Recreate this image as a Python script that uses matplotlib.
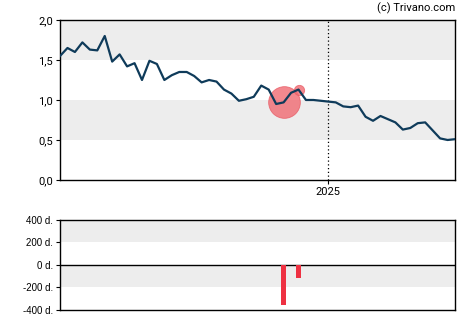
import numpy as np
import pandas as pd
import matplotlib
matplotlib.use('Agg')
import matplotlib.pyplot as plt
import matplotlib.dates as mdates

# weekly closing values
dates = pd.date_range('2024-04-24', periods=54, freq='7D')
prices = [1.55, 1.65, 1.60, 1.72, 1.63, 1.62, 1.80, 1.48, 1.57, 1.42,
          1.46, 1.25, 1.49, 1.45, 1.25, 1.31, 1.35, 1.35, 1.30, 1.22,
          1.25, 1.23, 1.13, 1.08, 0.99, 1.01, 1.04, 1.18, 1.13, 0.95,
          0.97, 1.09, 1.13, 1.00, 1.00, 0.99, 0.98, 0.97, 0.92, 0.91,
          0.93, 0.79, 0.74, 0.80, 0.76, 0.72, 0.63, 0.65, 0.71, 0.72,
          0.62, 0.52, 0.50, 0.51]

# insider trades (index into dates, days)
trade_idx = [30, 32]
trade_days = [-355, -115]
circle_sizes = [520, 55]

year_mark = pd.Timestamp('2025-01-01')

fig = plt.figure(figsize=(4.7, 3.25), dpi=100)
ax1 = fig.add_axes([0.1277, 0.4462, 0.8404, 0.4923])
ax2 = fig.add_axes([0.1277, 0.0462, 0.8404, 0.2769])

grey = '#ededed'
line_col = '#0f3b5a'
bar_col = '#ee3142'

# price panel
for lo, hi in [(1.5, 2.0), (0.5, 1.0)]:
    ax1.axhspan(lo, hi, color=grey, zorder=0, lw=0)
ax1.axvline(year_mark, color='black', ls=(0, (1, 2)), lw=0.9, zorder=1)
ax1.plot(dates, prices, color=line_col, lw=1.6, zorder=3)
for i, s in zip(trade_idx, circle_sizes):
    ax1.scatter(dates[i], prices[i], s=s, color='#f06a72', alpha=0.8,
                edgecolors='#e85a64', linewidths=0.6, zorder=2)
ax1.set_xlim(dates[0], dates[-1])
ax1.set_ylim(0, 2.0)
ax1.set_yticks([0, 0.5, 1.0, 1.5, 2.0])
ax1.set_yticklabels(['0,0', '0,5', '1,0', '1,5', '2,0'],
                    family='Roboto', fontsize=8)
ax1.set_xticks([year_mark])
ax1.set_xticklabels(['2025'], family='Roboto', fontsize=8)
ax1.tick_params(length=3, width=0.8, pad=2)
for sp in ax1.spines.values():
    sp.set_linewidth(1.0)
fig.text(0.9681, 0.975, '(c) Trivano.com', ha='right', va='center',
         family='Roboto', fontsize=8)

# trades panel
for lo, hi in [(200, 400), (-200, 0)]:
    ax2.axhspan(lo, hi, color=grey, zorder=0, lw=0)
ax2.axhline(0, color='black', lw=1.0, zorder=1)
ax2.bar([dates[i] for i in trade_idx], trade_days, width=4.2,
        color=bar_col, zorder=2)
ax2.set_xlim(dates[0], dates[-1])
ax2.set_ylim(-400, 400)
ax2.set_yticks([-400, -200, 0, 200, 400])
ax2.set_yticklabels(['-400 d.', '-200 d.', '0 d.', '200 d.', '400 d.'],
                    family='Liberation Sans', fontsize=7)
ax2.set_xticks([])
ax2.tick_params(axis='y', length=3, width=0.8, pad=2)
for sp in ax2.spines.values():
    sp.set_linewidth(1.0)

fig.savefig('out.png', dpi=100)
